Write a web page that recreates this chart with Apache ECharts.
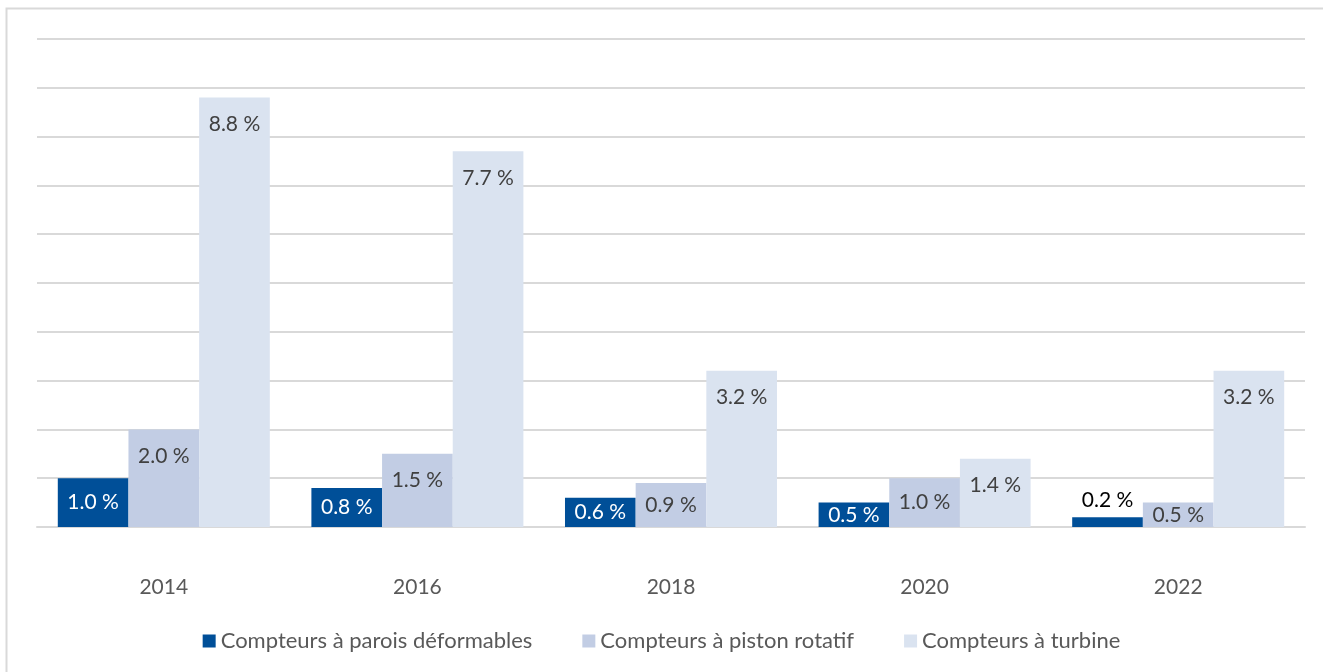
<!DOCTYPE html>
<html>
<head>
<meta charset="utf-8">
<script src="https://cdn.jsdelivr.net/npm/echarts@6/dist/echarts.min.js"></script>
<style>
html,body{margin:0;padding:0;background:#fff;}
#chart{width:1323px;height:672px;}
</style>
</head>
<body>
<div id="chart"></div>
<script>
const categories = ['2014', '2016', '2018', '2020', '2022'];
const seriesNames = ['Compteurs à parois déformables', 'Compteurs à piston rotatif', 'Compteurs à turbine'];
const parois = [1.0, 0.8, 0.6, 0.5, 0.2];
const piston = [2.0, 1.5, 0.9, 1.0, 0.5];
const turbine = [8.8, 7.7, 3.2, 1.4, 3.2];

const colors = ['#004F98', '#C2CDE4', '#DAE3F0'];
const labelColors = ['#FFFFFF', '#404040', '#404040'];
const FONT = 'Lato, "Open Sans", sans-serif';

function makeData(values) {
  return values.map(v => {
    let label;
    if (v < 0.3) {
      label = { position: 'top', color: '#000000', distance: 7 };
    } else if (v < 1.2) {
      label = { position: 'inside' };
    } else {
      label = { position: 'insideTop', distance: 16 };
    }
    return { value: v, label: label };
  });
}

const allValues = [parois, piston, turbine];
const series = allValues.map((vals, i) => ({
  name: seriesNames[i],
  type: 'bar',
  data: makeData(vals),
  itemStyle: { color: colors[i] },
  barGap: '0%',
  barCategoryGap: '16.4%',
  label: {
    show: true,
    color: labelColors[i],
    fontFamily: FONT,
    fontSize: 21,
    formatter: p => p.value.toFixed(1) + ' %'
  }
}));

const chart = echarts.init(document.getElementById('chart'));
chart.setOption({
  animation: false,
  backgroundColor: '#ffffff',
  textStyle: { fontFamily: FONT },
  graphic: [{
    type: 'rect',
    shape: { x: 6.5, y: 8.5, width: 1330, height: 680 },
    style: { fill: 'none', stroke: '#D9D9D9', lineWidth: 2 },
    silent: true
  }],
  grid: { left: 37, right: 18, top: 39, bottom: 145, containLabel: false },
  xAxis: {
    type: 'category',
    data: categories,
    axisLine: { lineStyle: { color: '#D9D9D9', width: 2 } },
    axisTick: { show: false },
    axisLabel: { color: '#595959', fontSize: 21, fontFamily: FONT, margin: 50 }
  },
  yAxis: {
    type: 'value',
    min: 0,
    max: 10,
    interval: 1,
    axisLabel: { show: false },
    axisLine: { show: false },
    axisTick: { show: false },
    splitLine: { lineStyle: { color: '#D9D9D9', width: 2 } }
  },
  legend: {
    top: 625,
    left: 'center',
    itemWidth: 13,
    itemHeight: 13,
    itemGap: 50,
    icon: 'rect',
    textStyle: { color: '#595959', fontSize: 22, fontFamily: FONT },
    data: seriesNames
  },
  series: series
});
</script>
</body>
</html>
